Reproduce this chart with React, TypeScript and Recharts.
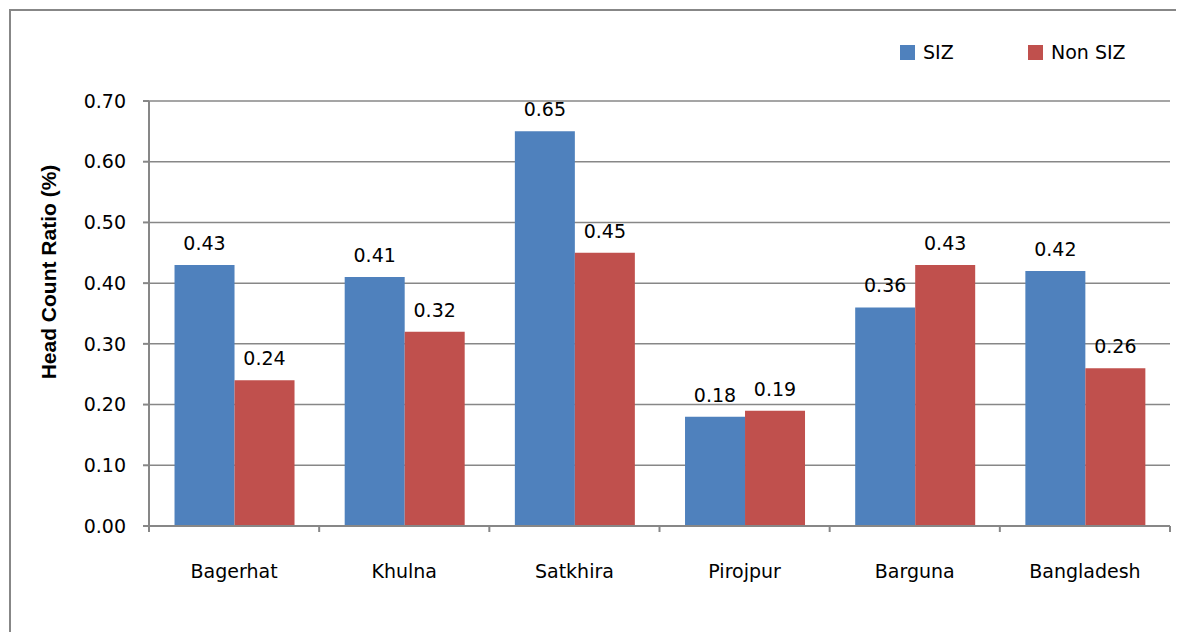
import { BarChart, Bar, XAxis, YAxis, CartesianGrid, Legend, LabelList } from 'recharts'

const districts = ['Bagerhat', 'Khulna', 'Satkhira', 'Pirojpur', 'Barguna', 'Bangladesh']
const sizValues = [0.43, 0.41, 0.65, 0.18, 0.36, 0.42]
const nonSizValues = [0.24, 0.32, 0.45, 0.19, 0.43, 0.26]
const yTicks = [0, 0.1, 0.2, 0.3, 0.4, 0.5, 0.6, 0.7]
const legendOrder = ['SIZ', 'Non SIZ']

const data = districts.map((name, i) => ({ name, siz: sizValues[i], nonSiz: nonSizValues[i] }))

const GRAY = '#878787'
const FONT = 'DejaVu Sans'
const CHART_W = 1180
const CHART_H = 640
const margin = { top: 90, right: 21, left: 0, bottom: 65 }
const Y_W = 138
const PLOT_W = CHART_W - margin.left - margin.right - Y_W
const BAND = PLOT_W / districts.length

const fmt = (v: any) => Number(v).toFixed(2)

const XTick = (props: any) => {
  const { x, y, payload, index } = props
  const left = x - BAND / 2
  const right = x + BAND / 2
  return (
    <g>
      <line x1={left} y1={y} x2={left} y2={y + 6} stroke={GRAY} strokeWidth={2} />
      {index === districts.length - 1 && (
        <line x1={right} y1={y} x2={right} y2={y + 6} stroke={GRAY} strokeWidth={2} />
      )}
      <text x={x} y={y + 52} textAnchor="middle" fill="#000" fontSize={19} fontFamily={FONT}>
        {payload.value}
      </text>
    </g>
  )
}

const LegendBox = (props: any) => {
  const items = [...(props.payload || [])].sort(
    (a: any, b: any) => legendOrder.indexOf(a.value) - legendOrder.indexOf(b.value)
  )
  return (
    <div style={{ position: 'relative', width: 300, height: 24, fontFamily: FONT, fontSize: 19 }}>
      {items.map((it: any, i: number) => (
        <div
          key={i}
          style={{ position: 'absolute', left: i * 128, top: 0, display: 'flex', alignItems: 'center', color: '#000' }}
        >
          <span style={{ width: 15, height: 15, background: it.color, display: 'inline-block', marginRight: 8 }} />
          <span>{it.value}</span>
        </div>
      ))}
    </div>
  )
}

export default function App() {
  return (
    <div
      style={{
        marginLeft: 1,
        marginTop: 1,
        width: 1173,
        height: 621,
        borderTop: `2px solid ${GRAY}`,
        borderLeft: `2px solid ${GRAY}`,
        overflow: 'hidden',
        background: '#fff',
      }}
    >
      <BarChart
        width={CHART_W}
        height={CHART_H}
        data={data}
        margin={margin}
        barCategoryGap="15%"
        barGap={0}
        style={{ fontFamily: FONT }}
      >
        <CartesianGrid horizontal vertical={false} stroke={GRAY} strokeWidth={1.5} />
        <XAxis
          dataKey="name"
          axisLine={{ stroke: GRAY, strokeWidth: 2 }}
          tickLine={false}
          tickSize={0}
          tickMargin={0}
          height={60}
          interval={0}
          tick={<XTick />}
        />
        <YAxis
          width={Y_W}
          domain={[0, 0.7]}
          ticks={yTicks}
          interval={0}
          tickFormatter={fmt}
          axisLine={{ stroke: GRAY, strokeWidth: 2 }}
          tickLine={{ stroke: GRAY, strokeWidth: 2 }}
          tickSize={6}
          tickMargin={17}
          tick={{ fill: '#000', fontSize: 19, fontFamily: FONT }}
          label={{
            value: 'Head Count Ratio (%)',
            content: (p: any) => {
              const vb = p.viewBox || { x: 0, y: 0, width: 0, height: 0 }
              const cx = vb.x + 37
              const cy = vb.y + 171
              return (
                <text
                  x={cx}
                  y={cy}
                  transform={`rotate(-90, ${cx}, ${cy})`}
                  textAnchor="middle"
                  dominantBaseline="central"
                  fontFamily="Liberation Sans"
                  fontWeight="bold"
                  fontSize={21}
                  fill="#000"
                >
                  Head Count Ratio (%)
                </text>
              )
            },
          }}
        />
        <Legend
          layout="horizontal"
          verticalAlign="middle"
          align="center"
          wrapperStyle={{ top: 30, left: 889, width: 300 }}
          content={<LegendBox />}
        />
        <Bar dataKey="siz" name="SIZ" fill="#4F81BD" isAnimationActive={false}>
          <LabelList dataKey="siz" position="top" offset={15} formatter={fmt} fill="#000" fontSize={19} fontFamily={FONT} />
        </Bar>
        <Bar dataKey="nonSiz" name="Non SIZ" fill="#C0504D" isAnimationActive={false}>
          <LabelList dataKey="nonSiz" position="top" offset={15} formatter={fmt} fill="#000" fontSize={19} fontFamily={FONT} />
        </Bar>
      </BarChart>
    </div>
  )
}
